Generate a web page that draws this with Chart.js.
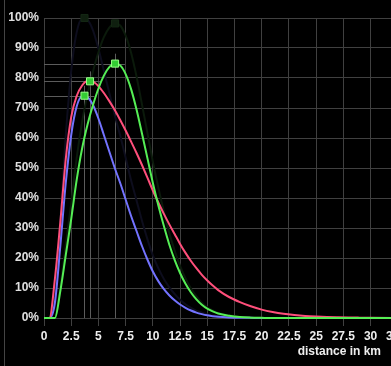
<!DOCTYPE html>
<html>
<head>
<meta charset="utf-8">
<script src="https://cdn.jsdelivr.net/npm/chart.js@4.4.1/dist/chart.umd.min.js"></script>
<style>
  html, body { margin: 0; padding: 0; background: #000; overflow: hidden; }
  #wrap { position: relative; width: 431px; height: 366px; }
</style>
</head>
<body>
<div id="wrap"><canvas id="distChart"></canvas></div>
<script>
// distance axis (km) and share of trips (%) for each curve
var distanceKm = [0, 0.5, 1, 1.5, 2, 2.5, 3, 3.5, 4, 4.5, 5, 5.5, 6, 6.5, 7, 7.5, 8, 8.5, 9, 9.5,
  10, 10.5, 11, 11.5, 12, 12.5, 13, 13.5, 14, 14.5, 15, 15.5, 16, 17, 18, 19, 20, 21, 22, 23,
  24, 25, 26, 27, 28, 29, 30, 32, 35];

var blueShare = [0, 0, 5, 24, 45, 61, 70.5, 73.8, 73.5, 71, 66.5, 61, 55.5, 50, 45, 39.5, 34, 29, 24, 19.5,
  15.5, 12.3, 9.7, 7.6, 5.9, 4.5, 3.4, 2.5, 1.8, 1.3, 0.9, 0.6, 0.4, 0.2, 0.1, 0.05, 0, 0, 0, 0,
  0, 0, 0, 0, 0, 0, 0, 0, 0];

var redShare = [0, 0, 13, 32, 53, 67, 74, 77.5, 79, 78.8, 77.3, 75, 72.3, 69.3, 66, 62.5, 58.8, 55, 51, 46.8,
  42.5, 38.5, 34.8, 31.3, 28, 24.7, 21.7, 19, 16.6, 14.4, 12.5, 10.8, 9.3, 7, 5.3, 3.9, 2.8, 2, 1.4, 1,
  0.7, 0.5, 0.35, 0.25, 0.17, 0.12, 0.08, 0.04, 0.01];

var greenShare = [0, 0, 0, 9, 21, 33, 46, 56.5, 64.5, 71, 76.5, 80.8, 83.6, 84.8, 84.2, 81.3, 76.3, 69.5, 61.5, 53.3,
  45, 37.6, 30.8, 24.6, 19.4, 15, 11.4, 8.5, 6.2, 4.4, 3.1, 2.2, 1.5, 0.75, 0.3, 0.12, 0.05, 0, 0, 0,
  0, 0, 0, 0, 0, 0, 0, 0, 0];

// faint scaled copies behind the curves
var blueGhost = [0, 0, 6.8, 32.4, 60.8, 82.4, 95.2, 99.7, 99.3, 95.9, 89.8, 82.4, 75, 67.6, 60.8, 53.4, 45.9, 39.2, 32.4, 26.3,
  20.9, 16.6, 13.1, 10.3, 8, 6.1, 4.6, 3.4, 2.4, 1.8, 1.2, 0.8, 0.5, 0.3, 0.1, 0.07, 0, 0, 0, 0,
  0, 0, 0, 0, 0, 0, 0, 0, 0];

var greenGhost = [0, 0, 0, 10.4, 24.3, 38.2, 53.3, 65.4, 74.7, 82.2, 88.6, 93.6, 96.8, 98.2, 97.5, 94.1, 88.4, 80.5, 71.2, 61.7,
  52.1, 43.5, 35.7, 28.5, 22.5, 17.4, 13.2, 9.8, 7.2, 5.1, 3.6, 2.5, 1.7, 0.9, 0.35, 0.14, 0.06, 0, 0, 0,
  0, 0, 0, 0, 0, 0, 0, 0, 0];

// peak markers: blue, red, green
var peakKm = [3.72, 4.23, 6.53];
var peakShare = [74.1, 78.9, 84.8];
var ghostPeakKm = [3.72, 6.53];
var ghostPeakShare = [100, 98.2];

function pts(xs, ys) {
  return xs.map(function (x, i) { return { x: x, y: ys[i] }; });
}

function curve(values, color, order) {
  return {
    data: pts(distanceKm, values),
    borderColor: color,
    borderWidth: 2,
    pointRadius: 0,
    cubicInterpolationMode: 'monotone',
    clip: false,
    order: order
  };
}

// grey guide lines from each peak back to the axes
var peakGuides = {
  id: 'peakGuides',
  beforeDatasetsDraw: function (chart) {
    var ctx = chart.ctx;
    var xs = chart.scales.x;
    var ys = chart.scales.y;
    ctx.save();
    ctx.strokeStyle = '#5c5c5c';
    ctx.lineWidth = 1;
    for (var i = 0; i < peakKm.length; i++) {
      var px = Math.round(xs.getPixelForValue(peakKm[i])) + 0.5;
      var py = Math.round(ys.getPixelForValue(peakShare[i])) + 0.5;
      ctx.beginPath();
      ctx.moveTo(px, ys.getPixelForValue(0));
      ctx.lineTo(px, ys.getPixelForValue(peakShare[i] + 3.3));
      ctx.moveTo(xs.getPixelForValue(0), py);
      ctx.lineTo(xs.getPixelForValue(peakKm[i] + 0.9), py);
      ctx.stroke();
    }
    ctx.restore();
  }
};

var frameAndTitle = {
  id: 'frameAndTitle',
  beforeDraw: function (chart) {
    var ctx = chart.ctx;
    ctx.save();
    ctx.fillStyle = '#000';
    ctx.fillRect(0, 0, chart.width, chart.height);
    ctx.strokeStyle = '#444';
    ctx.beginPath();
    ctx.moveTo(4.5, 0);
    ctx.lineTo(4.5, chart.height);
    ctx.stroke();
    ctx.restore();
  },
  afterDraw: function (chart) {
    var ctx = chart.ctx;
    ctx.save();
    ctx.font = "bold 12px 'Liberation Sans', Arial, sans-serif";
    ctx.fillStyle = '#eeeeee';
    ctx.textAlign = 'right';
    ctx.textBaseline = 'middle';
    ctx.fillText('distance in km', 381, 352);
    ctx.restore();
  }
};

var tickFont = { family: "'Liberation Sans', Arial, sans-serif", size: 12, weight: 'bold' };

new Chart(document.getElementById('distChart'), {
  type: 'line',
  data: {
    datasets: [
      {
        data: pts(peakKm, peakShare),
        showLine: false,
        pointStyle: 'rect',
        pointRadius: 5,
        backgroundColor: '#33cc33',
        borderColor: '#99ff88',
        borderWidth: 1,
        clip: false,
        order: 0
      },
      curve(greenShare, '#55ee55', 1),
      curve(redShare, '#ff4f7b', 2),
      curve(blueShare, '#7373ff', 3),
      {
        data: pts(ghostPeakKm, ghostPeakShare),
        showLine: false,
        pointStyle: 'rect',
        pointRadius: 5,
        backgroundColor: '#0f1f0f',
        borderColor: '#142814',
        borderWidth: 1,
        clip: false,
        order: 4
      },
      curve(greenGhost, '#0b1a0b', 5),
      curve(blueGhost, '#0d0d1d', 6)
    ]
  },
  options: {
    responsive: true,
    maintainAspectRatio: false,
    animation: false,
    layout: { padding: { top: 18, right: 0, bottom: 0, left: 0 } },
    plugins: {
      legend: { display: false },
      tooltip: { enabled: false }
    },
    scales: {
      x: {
        type: 'linear',
        min: 0,
        max: 35,
        afterFit: function (scale) { scale.height = 48; },
        grid: { color: '#404040', tickLength: 8, tickColor: '#404040' },
        border: { color: '#404040' },
        ticks: {
          stepSize: 2.5,
          autoSkip: false,
          maxRotation: 0,
          padding: 3,
          color: '#eeeeee',
          font: tickFont,
          callback: function (v) { return v > 33 ? '' : String(v); }
        }
      },
      y: {
        min: 0,
        max: 100,
        afterFit: function (scale) { scale.width = 44; },
        grid: { color: '#404040', drawTicks: false },
        border: { color: '#404040' },
        ticks: {
          stepSize: 10,
          padding: 5,
          color: '#e0e0e0',
          font: tickFont,
          callback: function (v) { return v + '%'; }
        }
      }
    }
  },
  plugins: [peakGuides, frameAndTitle]
});
</script>
</body>
</html>
